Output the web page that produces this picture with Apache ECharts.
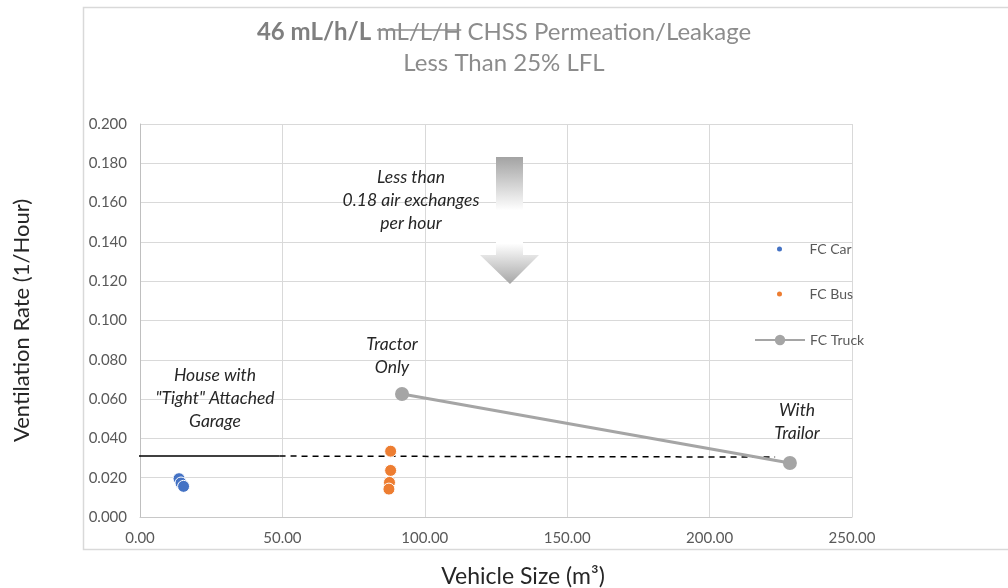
<!DOCTYPE html>
<html>
<head>
<meta charset="utf-8">
<script src="https://cdn.jsdelivr.net/npm/echarts@6/dist/echarts.min.js"></script>
<style>
html,body{margin:0;padding:0;background:#fff;}
#chart{width:1008px;height:588px;}
</style>
</head>
<body>
<div id="chart"></div>
<script>
// ---- data ----
var carData = [[13.7, 0.0195], [14.4, 0.0173], [15.3, 0.0156]];
var busData = [[88.0, 0.0335], [88.0, 0.0237], [87.6, 0.0176], [87.4, 0.0142]];
var truckData = [[92.0, 0.0626], [228.2, 0.0275]];
var houseSolid = [[-6, 0.031], [49, 0.031]];
var houseDashed = [[49, 0.031], [223, 0.0305]];
var xTicks = [0, 50, 100, 150, 200, 250];
var yTicks = [0, 0.02, 0.04, 0.06, 0.08, 0.1, 0.12, 0.14, 0.16, 0.18, 0.2];
var seriesNames = ['FC Car', 'FC Bus', 'FC Truck'];

var FONT = 'Lato, "Open Sans", sans-serif';
var chart = echarts.init(document.getElementById('chart'));

// measure title parts for the strike-through line
var cv = document.createElement('canvas').getContext('2d');
function tw(font, s) { cv.font = font; return cv.measureText(s).width; }
var TFS = 24;
var wB = tw('bold ' + TFS + 'px ' + FONT, '46 mL/h/L ');
var wS = tw(TFS + 'px ' + FONT, 'mL/L/H');
var wN = tw(TFS + 'px ' + FONT, ' CHSS Permeation/Leakage');
var tStart = 504 - (wB + wS + wN) / 2;
var strikeX1 = tStart + wB, strikeX2 = tStart + wB + wS;

var annoStyle = { fill: '#262626', font: 'italic 17.5px ' + FONT, textAlign: 'center', lineHeight: 23 };

var option = {
  backgroundColor: '#fff',
  animation: false,
  textStyle: { fontFamily: FONT },
  title: {
    left: 'center',
    top: 12,
    text: '{b|46 mL/h/L }{s|mL/L/H}{n| CHSS Permeation/Leakage}\n{n|Less Than 25% LFL}',
    textStyle: {
      fontWeight: 'normal',
      rich: {
        b: { fontSize: TFS, fontWeight: 'bold', color: '#7f7f7f', fontFamily: FONT, lineHeight: 31 },
        s: { fontSize: TFS, fontWeight: 'normal', color: '#8c8c8c', fontFamily: FONT, lineHeight: 31 },
        n: { fontSize: TFS, fontWeight: 'normal', color: '#8c8c8c', fontFamily: FONT, lineHeight: 31 }
      }
    }
  },
  grid: { left: 140, right: 156, top: 124, bottom: 71, containLabel: false, outerBoundsMode: 'none' },
  xAxis: {
    type: 'value', min: xTicks[0], max: xTicks[xTicks.length - 1], interval: 50,
    name: 'Vehicle Size (m³)', nameLocation: 'middle', nameGap: 48,
    nameTextStyle: { fontSize: 23, color: '#262626', fontFamily: FONT, padding: [0, 0, 0, 54] },
    axisLine: { show: true, lineStyle: { color: '#c8c8c8', width: 1 } },
    axisTick: { show: false },
    axisLabel: { color: '#595959', fontSize: 15, margin: 14, formatter: function (v) { return v.toFixed(2); } },
    splitLine: { show: true, lineStyle: { color: '#d9d9d9', width: 1 } }
  },
  yAxis: {
    type: 'value', min: yTicks[0], max: yTicks[yTicks.length - 1], interval: 0.02,
    name: 'Ventilation Rate (1/Hour)', nameLocation: 'middle', nameGap: 107,
    nameTextStyle: { fontSize: 22, color: '#262626', fontFamily: FONT },
    axisLine: { show: true, lineStyle: { color: '#bfbfbf', width: 1 } },
    axisTick: { show: false },
    axisLabel: { color: '#595959', fontSize: 15, margin: 13, formatter: function (v) { return v.toFixed(3); } },
    splitLine: { show: true, lineStyle: { color: '#d9d9d9', width: 1 } }
  },
  legend: [
    { data: [seriesNames[0]], orient: 'vertical', left: 770, top: 237, itemWidth: 50, itemHeight: 7,
      textStyle: { color: '#595959', fontSize: 14, fontFamily: FONT }, selectedMode: false },
    { data: [seriesNames[1]], orient: 'vertical', left: 770, top: 282, itemWidth: 50, itemHeight: 7,
      textStyle: { color: '#595959', fontSize: 14, fontFamily: FONT }, selectedMode: false },
    { data: [seriesNames[2]], orient: 'vertical', left: 749, top: 328, itemWidth: 50, itemHeight: 13,
      textStyle: { color: '#595959', fontSize: 14, fontFamily: FONT }, selectedMode: false }
  ],
  series: [
    { name: seriesNames[0], type: 'scatter', data: carData, symbolSize: 12,
      itemStyle: { color: '#4472C4', borderColor: '#fff', borderWidth: 1, opacity: 1 } },
    { name: seriesNames[1], type: 'scatter', data: busData, symbolSize: 12,
      itemStyle: { color: '#ED7D31', borderColor: '#fff', borderWidth: 1, opacity: 1 } },
    { name: 'house', type: 'line', data: houseSolid, symbol: 'none', clip: false, silent: true,
      lineStyle: { color: '#000', width: 1.5 }, z: 1 },
    { name: 'house2', type: 'line', data: houseDashed, symbol: 'none', clip: false, silent: true,
      lineStyle: { color: '#000', width: 1.5, type: [6, 5] }, z: 1 },
    { name: seriesNames[2], type: 'line', data: truckData, symbol: 'circle', symbolSize: 14,
      lineStyle: { color: '#A5A5A5', width: 3 }, itemStyle: { color: '#A5A5A5' }, z: 3 }
  ],
  graphic: [
    { type: 'rect', shape: { x: 83.5, y: 7.5, width: 1000, height: 542 }, silent: true, z: -10,
      style: { fill: 'none', stroke: '#d9d9d9', lineWidth: 1.5 } },
    { type: 'line', shape: { x1: strikeX1, y1: 30, x2: strikeX2, y2: 30 }, silent: true, z: 100,
      style: { stroke: '#8c8c8c', lineWidth: 1.4 } },
    { type: 'polygon', silent: true, z: 5,
      shape: { points: [[496, 157], [523, 157], [523, 255], [539, 255], [510, 284], [480, 255], [496, 255]] },
      style: { fill: new echarts.graphic.LinearGradient(0, 0, 0, 1, [
        { offset: 0, color: '#a3a3a3' }, { offset: 0.42, color: '#ffffff' },
        { offset: 0.68, color: '#ffffff' }, { offset: 1, color: '#a6a6a6' }]) } },
    { type: 'text', x: 411, y: 166, z: 10, silent: true,
      style: Object.assign({ text: 'Less than\n0.18 air exchanges\nper hour' }, annoStyle) },
    { type: 'text', x: 215, y: 364, z: 10, silent: true,
      style: Object.assign({ text: 'House with\n"Tight" Attached\nGarage' }, annoStyle) },
    { type: 'text', x: 392, y: 333, z: 10, silent: true,
      style: Object.assign({ text: 'Tractor\nOnly' }, annoStyle) },
    { type: 'text', x: 797, y: 399, z: 10, silent: true,
      style: Object.assign({ text: 'With\nTrailor' }, annoStyle) }
  ]
};
chart.setOption(option);
</script>
</body>
</html>
